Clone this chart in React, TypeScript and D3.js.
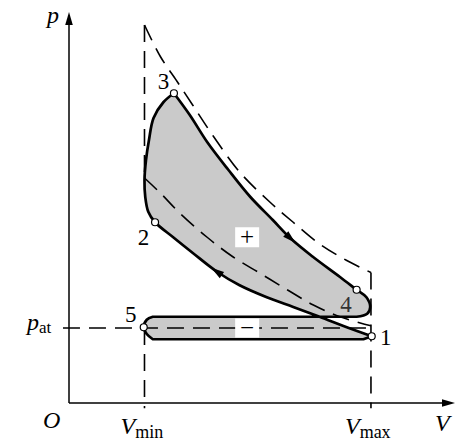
import React from 'react';
import * as d3 from 'd3';

// ideal (theoretical) cycle, dashed
const V_MIN = 1.0;
const V_MAX = 4.0;
const P_AT = 1.0;
const idealExpV = [1.0, 1.21, 1.43, 1.64, 1.91, 2.26, 2.66, 2.97, 3.32, 3.68, 4.0];
const idealExpP = [5.04, 4.62, 4.29, 3.97, 3.56, 3.08, 2.68, 2.41, 2.12, 1.9, 1.74];
const idealCompV = [1.0, 1.21, 1.47, 1.83, 2.17, 2.53, 2.89, 3.23, 3.59, 4.0];
const idealCompP = [3.0, 2.8, 2.53, 2.21, 1.95, 1.73, 1.51, 1.31, 1.15, 1.03];

// real (indicator) cycle, solid
const compV = [4.01, 3.68, 3.32, 2.97, 2.62, 2.26, 1.96, 1.64, 1.38, 1.14, 1.05, 1.01, 1.0, 1.02, 1.06, 1.12, 1.25, 1.39];
const compP = [0.89, 1.01, 1.15, 1.28, 1.41, 1.57, 1.75, 2.0, 2.21, 2.41, 2.55, 2.75, 2.97, 3.24, 3.51, 3.8, 4.01, 4.13];
const expV = [1.39, 1.6, 1.83, 2.11, 2.4, 2.7, 2.93, 3.23, 3.59, 3.81, 3.94, 3.99, 3.95, 3.81];
const expP = [4.13, 3.84, 3.48, 3.11, 2.75, 2.44, 2.2, 1.95, 1.68, 1.51, 1.41, 1.28, 1.19, 1.15];
const exhaustV = [3.81, 1.11];
const exhaustP = [1.15, 1.15];
const turnV = [1.11, 1.03, 0.99, 1.03, 1.11];
const turnP = [1.15, 1.11, 1.01, 0.92, 0.85];
const intakeV = [1.11, 3.9, 4.01];
const intakeP = [0.85, 0.85, 0.89];

const pointNames = ['1', '2', '3', '4', '5'];
const pointV = [4.01, 1.14, 1.39, 3.81, 0.99];
const pointP = [0.89, 2.41, 4.13, 1.51, 1.01];

const compArrowIdx = 6;
const expArrowIdx = 6;

const zip = (a: number[], b: number[]) => a.map((v, i) => [v, b[i]] as [number, number]);

const W = 471, H = 442;
const FONT = "'Liberation Serif', 'DejaVu Serif', serif";

export default function App() {
  const x = d3.scaleLinear().domain([0, 5.1]).range([69, 454]);
  const y = d3.scaleLinear().domain([0, 5.2]).range([403, 13]);

  const curve = d3.line<[number, number]>().x(d => x(d[0])).y(d => y(d[1])).curve(d3.curveCatmullRom.alpha(0.5));
  const straight = d3.line<[number, number]>().x(d => x(d[0])).y(d => y(d[1]));
  const strip = (s: string) => s.replace(/^M[-\d.e,]+/, '');

  const cycle =
    curve(zip(compV, compP))! +
    strip(curve(zip(expV, expP))!) +
    strip(straight(zip(exhaustV, exhaustP))!) +
    strip(curve(zip(turnV, turnP))!) +
    strip(straight(zip(intakeV, intakeP))!) + 'Z';

  const dash = '17,9';

  const arrow = (vs: number[], ps: number[], i: number) => {
    const a = Math.atan2(y(ps[i + 1]) - y(ps[i - 1]), x(vs[i + 1]) - x(vs[i - 1])) * 180 / Math.PI;
    return (
      <polygon points="7,0 -6,-3.8 -6,3.8" fill="#000"
        transform={`translate(${x(vs[i])},${y(ps[i])}) rotate(${a})`} />
    );
  };

  const labelOff: [number, number][] = [[14, 9], [-11.5, 23], [-10.5, -4], [-10.5, 22], [-13, -5]];

  const x0 = x(0), y0 = y(0);
  const xTip = 455, yTip = 12;

  return (
    <svg width={W} height={H} style={{ position: 'absolute', left: 0, top: 0, background: '#fff' }}>
      {/* axes */}
      <line x1={x0} y1={y0} x2={xTip - 6} y2={y0} stroke="#000" strokeWidth={1.5} />
      <line x1={x0} y1={y0} x2={x0} y2={yTip + 6} stroke="#000" strokeWidth={1.5} />
      <polygon points={`${xTip},${y0} ${xTip - 13},${y0 - 3.8} ${xTip - 13},${y0 + 3.8}`} fill="#000" />
      <polygon points={`${x0},${yTip} ${x0 - 3.8},${yTip + 13} ${x0 + 3.8},${yTip + 13}`} fill="#000" />

      {/* real cycle */}
      <path d={cycle} fill="#cacaca" stroke="#000" strokeWidth={2.7} strokeLinejoin="round" />

      {/* ideal cycle and guides */}
      <g fill="none" stroke="#000" strokeWidth={1.6} strokeDasharray={dash}>
        <path d={straight([[V_MIN, idealExpP[0]], [V_MIN, idealCompP[0]]])!} />
        <path d={curve(zip(idealExpV, idealExpP))!} />
        <path d={curve(zip(idealCompV, idealCompP))!} />
        <path d={straight([[V_MAX, idealExpP[idealExpP.length - 1]], [V_MAX, -0.07]])!} />
        <path d={straight([[V_MIN, P_AT], [V_MIN, -0.07]])!} />
        <path d={straight([[-0.08, P_AT], [V_MAX, P_AT]])!} />
      </g>

      {arrow(compV, compP, compArrowIdx)}
      {arrow(expV, expP, expArrowIdx)}

      {/* sign boxes */}
      <rect x={x(2.36) - 12} y={y(2.21) - 10} width={24} height={20} fill="#fff" />
      <text x={x(2.36)} y={y(2.21) + 7.5} textAnchor="middle" fontFamily={FONT} fontSize={25}>+</text>
      <rect x={x(2.36) - 12} y={y(P_AT) - 9.5} width={24} height={19} fill="#fff" />
      <text x={x(2.36)} y={y(P_AT) + 7.5} textAnchor="middle" fontFamily={FONT} fontSize={25}>−</text>

      {/* state points */}
      {pointNames.map((n, i) => (
        <g key={n}>
          <circle cx={x(pointV[i])} cy={y(pointP[i])} r={3.5} fill="#fff" stroke="#000" strokeWidth={1.2} />
          <text x={x(pointV[i]) + labelOff[i][0]} y={y(pointP[i]) + labelOff[i][1]} textAnchor="middle"
            fontFamily={FONT} fontSize={23} fill={n === '4' ? '#333' : '#000'}>{n}</text>
        </g>
      ))}

      {/* axis labels */}
      <text x={47} y={23} fontFamily={FONT} fontSize={24} fontStyle="italic">p</text>
      <text x={43} y={428} fontFamily={FONT} fontSize={24} fontStyle="italic">O</text>
      <text x={435} y={431} fontFamily={FONT} fontSize={24} fontStyle="italic">V</text>
      <text x={27} y={330} fontFamily={FONT} fontSize={24}>
        <tspan fontStyle="italic">p</tspan>
        <tspan fontSize={17} dy={3}>at</tspan>
      </text>
      <text x={x(V_MIN) - 24} y={434} fontFamily={FONT} fontSize={24}>
        <tspan fontStyle="italic">V</tspan>
        <tspan fontSize={18} dy={4}>min</tspan>
      </text>
      <text x={x(V_MAX) - 26} y={434} fontFamily={FONT} fontSize={24}>
        <tspan fontStyle="italic">V</tspan>
        <tspan fontSize={18} dy={4}>max</tspan>
      </text>
    </svg>
  );
}
